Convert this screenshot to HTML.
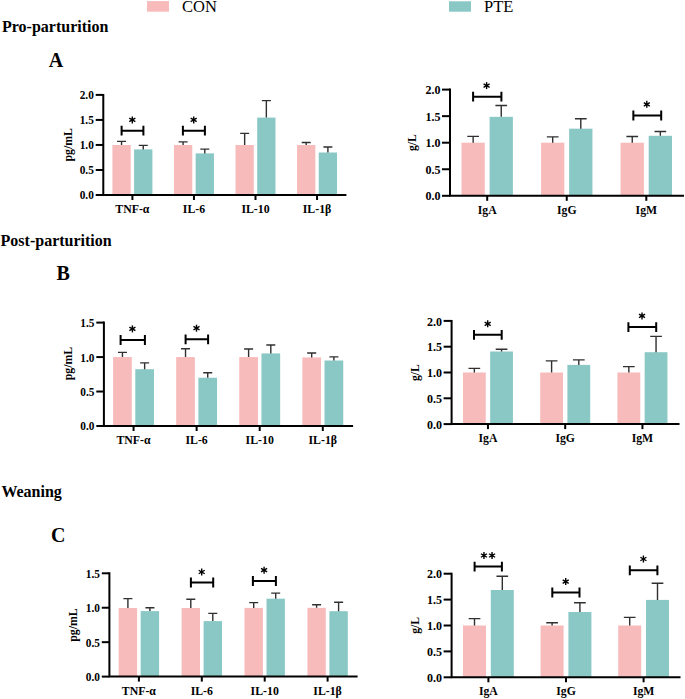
<!DOCTYPE html>
<html><head><meta charset="utf-8"><style>
html,body{margin:0;padding:0;background:#fff;}
body{width:685px;height:699px;overflow:hidden;}
svg{display:block;}
text{font-family:"Liberation Serif", serif;fill:#000;}
</style></head><body>
<svg width="685" height="699" viewBox="0 0 685 699">
<rect x="0" y="0" width="685" height="699" fill="#fff"/>
<rect x="147" y="1.1" width="22" height="10.6" fill="#F8BBBB"/>
<text x="182" y="12.3" font-size="16.5">CON</text>
<rect x="449" y="1.3" width="22" height="10.4" fill="#89C8C5"/>
<text x="484" y="12.3" font-size="16.5">PTE</text>
<text x="2.0" y="32.4" font-size="16" font-weight="bold">Pro-parturition</text>
<text x="48.7" y="66.5" font-size="20" font-weight="bold">A</text>
<text x="0.6" y="245.7" font-size="16" font-weight="bold">Post-parturition</text>
<text x="56.4" y="280" font-size="20" font-weight="bold">B</text>
<text x="1.4" y="496.9" font-size="16" font-weight="bold">Weaning</text>
<text transform="translate(51 542.4) scale(1 1.06)" font-size="20" font-weight="bold">C</text>
<rect x="112.4" y="145" width="18.3" height="50" fill="#F8BBBB"/>
<path d="M121.55 145V141.4M117.05 141.4H126.05" stroke="#303030" stroke-width="1.4" fill="none"/>
<rect x="134.1" y="149.4" width="18.3" height="45.6" fill="#89C8C5"/>
<path d="M143.25 149.4V145.4M138.75 145.4H147.75" stroke="#303030" stroke-width="1.4" fill="none"/>
<line x1="132.4" y1="195" x2="132.4" y2="200" stroke="#000" stroke-width="2"/>
<text x="132.4" y="212.9" text-anchor="middle" font-size="11.8" font-weight="bold">TNF-α</text>
<rect x="173.95" y="145" width="18.3" height="50" fill="#F8BBBB"/>
<path d="M183.1 145V141.9M178.6 141.9H187.6" stroke="#303030" stroke-width="1.4" fill="none"/>
<rect x="195.65" y="153.4" width="18.3" height="41.6" fill="#89C8C5"/>
<path d="M204.8 153.4V149.1M200.3 149.1H209.3" stroke="#303030" stroke-width="1.4" fill="none"/>
<line x1="193.95" y1="195" x2="193.95" y2="200" stroke="#000" stroke-width="2"/>
<text x="193.95" y="212.9" text-anchor="middle" font-size="11.8" font-weight="bold">IL-6</text>
<rect x="235.5" y="145" width="18.3" height="50" fill="#F8BBBB"/>
<path d="M244.65 145V133.4M240.15 133.4H249.15" stroke="#303030" stroke-width="1.4" fill="none"/>
<rect x="257.2" y="117.6" width="18.3" height="77.4" fill="#89C8C5"/>
<path d="M266.35 117.6V100.6M261.85 100.6H270.85" stroke="#303030" stroke-width="1.4" fill="none"/>
<line x1="255.5" y1="195" x2="255.5" y2="200" stroke="#000" stroke-width="2"/>
<text x="255.5" y="212.9" text-anchor="middle" font-size="11.8" font-weight="bold">IL-10</text>
<rect x="297.05" y="145" width="18.3" height="50" fill="#F8BBBB"/>
<path d="M306.2 145V142.5M301.7 142.5H310.7" stroke="#303030" stroke-width="1.4" fill="none"/>
<rect x="318.75" y="152.5" width="18.3" height="42.5" fill="#89C8C5"/>
<path d="M327.9 152.5V147M323.4 147H332.4" stroke="#303030" stroke-width="1.4" fill="none"/>
<line x1="317.05" y1="195" x2="317.05" y2="200" stroke="#000" stroke-width="2"/>
<text x="317.05" y="212.9" text-anchor="middle" font-size="11.8" font-weight="bold">IL-1β</text>
<path d="M103.3 93.9V195H346.4" stroke="#000" stroke-width="2" fill="none" stroke-linecap="butt"/>
<line x1="95.7" y1="195" x2="103.3" y2="195" stroke="#000" stroke-width="2"/>
<text transform="translate(93.8 199.45) scale(1 1.06)" text-anchor="end" font-size="11.3" font-weight="bold">0.0</text>
<line x1="95.7" y1="169.97" x2="103.3" y2="169.97" stroke="#000" stroke-width="2"/>
<text transform="translate(93.8 174.42) scale(1 1.06)" text-anchor="end" font-size="11.3" font-weight="bold">0.5</text>
<line x1="95.7" y1="144.95" x2="103.3" y2="144.95" stroke="#000" stroke-width="2"/>
<text transform="translate(93.8 149.4) scale(1 1.06)" text-anchor="end" font-size="11.3" font-weight="bold">1.0</text>
<line x1="95.7" y1="119.93" x2="103.3" y2="119.93" stroke="#000" stroke-width="2"/>
<text transform="translate(93.8 124.37) scale(1 1.06)" text-anchor="end" font-size="11.3" font-weight="bold">1.5</text>
<line x1="95.7" y1="94.9" x2="103.3" y2="94.9" stroke="#000" stroke-width="2"/>
<text transform="translate(93.8 99.35) scale(1 1.06)" text-anchor="end" font-size="11.3" font-weight="bold">2.0</text>
<text transform="translate(71.5 144.8) rotate(-90)" text-anchor="middle" font-size="11.8" font-weight="bold">pg/mL</text>
<path d="M121.6 125.8V135.6M121.6 130.7H143.4M143.4 125.8V135.6" stroke="#000" stroke-width="2" fill="none"/>
<g stroke="#000" stroke-width="1.4" stroke-linecap="butt"><line x1="132.3" y1="116.4" x2="132.3" y2="123.4"/><line x1="129.27" y1="118.15" x2="135.33" y2="121.65"/><line x1="135.33" y1="118.15" x2="129.27" y2="121.65"/><circle cx="132.3" cy="119.9" r="1.3" fill="#000" stroke="none"/></g>
<path d="M182.9 125.8V135.6M182.9 130.7H204.9M204.9 125.8V135.6" stroke="#000" stroke-width="2" fill="none"/>
<g stroke="#000" stroke-width="1.4" stroke-linecap="butt"><line x1="193.7" y1="116.4" x2="193.7" y2="123.4"/><line x1="190.67" y1="118.15" x2="196.73" y2="121.65"/><line x1="196.73" y1="118.15" x2="190.67" y2="121.65"/><circle cx="193.7" cy="119.9" r="1.3" fill="#000" stroke="none"/></g>
<rect x="461.5" y="142.7" width="23.3" height="53.1" fill="#F8BBBB"/>
<path d="M473.15 142.7V136.33M467.3 136.33H479" stroke="#303030" stroke-width="1.4" fill="none"/>
<rect x="489.6" y="116.84" width="23.3" height="78.96" fill="#89C8C5"/>
<path d="M501.25 116.84V105.53M495.4 105.53H507.1" stroke="#303030" stroke-width="1.4" fill="none"/>
<line x1="487.2" y1="195.8" x2="487.2" y2="200.8" stroke="#000" stroke-width="2"/>
<text x="487.2" y="213.8" text-anchor="middle" font-size="11.7" font-weight="bold">IgA</text>
<rect x="541.05" y="142.7" width="23.3" height="53.1" fill="#F8BBBB"/>
<path d="M552.7 142.7V136.86M546.85 136.86H558.55" stroke="#303030" stroke-width="1.4" fill="none"/>
<rect x="569.15" y="128.68" width="23.3" height="67.12" fill="#89C8C5"/>
<path d="M580.8 128.68V118.81M574.95 118.81H586.65" stroke="#303030" stroke-width="1.4" fill="none"/>
<line x1="566.75" y1="195.8" x2="566.75" y2="200.8" stroke="#000" stroke-width="2"/>
<text x="566.75" y="213.8" text-anchor="middle" font-size="11.7" font-weight="bold">IgG</text>
<rect x="620.6" y="142.7" width="23.3" height="53.1" fill="#F8BBBB"/>
<path d="M632.25 142.7V136.49M626.4 136.49H638.1" stroke="#303030" stroke-width="1.4" fill="none"/>
<rect x="648.7" y="135.8" width="23.3" height="60" fill="#89C8C5"/>
<path d="M660.35 135.8V131.55M654.5 131.55H666.2" stroke="#303030" stroke-width="1.4" fill="none"/>
<line x1="646.3" y1="195.8" x2="646.3" y2="200.8" stroke="#000" stroke-width="2"/>
<text x="646.3" y="213.8" text-anchor="middle" font-size="11.7" font-weight="bold">IgM</text>
<path d="M450 88.6V195.8H684" stroke="#000" stroke-width="2" fill="none" stroke-linecap="butt"/>
<line x1="442" y1="195.8" x2="450" y2="195.8" stroke="#000" stroke-width="2"/>
<text transform="translate(440.5 200.42) scale(1 1.04)" text-anchor="end" font-size="12" font-weight="bold">0.0</text>
<line x1="442" y1="169.25" x2="450" y2="169.25" stroke="#000" stroke-width="2"/>
<text transform="translate(440.5 173.87) scale(1 1.04)" text-anchor="end" font-size="12" font-weight="bold">0.5</text>
<line x1="442" y1="142.7" x2="450" y2="142.7" stroke="#000" stroke-width="2"/>
<text transform="translate(440.5 147.32) scale(1 1.04)" text-anchor="end" font-size="12" font-weight="bold">1.0</text>
<line x1="442" y1="116.15" x2="450" y2="116.15" stroke="#000" stroke-width="2"/>
<text transform="translate(440.5 120.77) scale(1 1.04)" text-anchor="end" font-size="12" font-weight="bold">1.5</text>
<line x1="442" y1="89.6" x2="450" y2="89.6" stroke="#000" stroke-width="2"/>
<text transform="translate(440.5 94.22) scale(1 1.04)" text-anchor="end" font-size="12" font-weight="bold">2.0</text>
<text transform="translate(415.5 142.6) rotate(-90)" text-anchor="middle" font-size="11.7" font-weight="bold">g/L</text>
<path d="M473.1 91.8V101.6M473.1 96.7H501.4M501.4 91.8V101.6" stroke="#000" stroke-width="2" fill="none"/>
<g stroke="#000" stroke-width="1.4" stroke-linecap="butt"><line x1="486.6" y1="82.1" x2="486.6" y2="89.1"/><line x1="483.57" y1="83.85" x2="489.63" y2="87.35"/><line x1="489.63" y1="83.85" x2="483.57" y2="87.35"/><circle cx="486.6" cy="85.6" r="1.3" fill="#000" stroke="none"/></g>
<path d="M633.35 110.6V120.4M633.35 115.5H661.2M661.2 110.6V120.4" stroke="#000" stroke-width="2" fill="none"/>
<g stroke="#000" stroke-width="1.4" stroke-linecap="butt"><line x1="646.8" y1="100.8" x2="646.8" y2="107.8"/><line x1="643.77" y1="102.55" x2="649.83" y2="106.05"/><line x1="649.83" y1="102.55" x2="643.77" y2="106.05"/><circle cx="646.8" cy="104.3" r="1.3" fill="#000" stroke="none"/></g>
<rect x="113.1" y="357.07" width="18.7" height="68.93" fill="#F8BBBB"/>
<path d="M122.45 357.07V352.38M117.95 352.38H126.95" stroke="#303030" stroke-width="1.4" fill="none"/>
<rect x="135.3" y="369.2" width="18.7" height="56.8" fill="#89C8C5"/>
<path d="M144.65 369.2V362.86M140.15 362.86H149.15" stroke="#303030" stroke-width="1.4" fill="none"/>
<line x1="133.55" y1="426" x2="133.55" y2="431" stroke="#000" stroke-width="2"/>
<text x="133.55" y="443.8" text-anchor="middle" font-size="11.8" font-weight="bold">TNF-α</text>
<rect x="176.18" y="357.07" width="18.7" height="68.93" fill="#F8BBBB"/>
<path d="M185.53 357.07V348.79M181.03 348.79H190.03" stroke="#303030" stroke-width="1.4" fill="none"/>
<rect x="198.38" y="377.75" width="18.7" height="48.25" fill="#89C8C5"/>
<path d="M207.73 377.75V372.71M203.23 372.71H212.23" stroke="#303030" stroke-width="1.4" fill="none"/>
<line x1="196.63" y1="426" x2="196.63" y2="431" stroke="#000" stroke-width="2"/>
<text x="196.63" y="443.8" text-anchor="middle" font-size="11.8" font-weight="bold">IL-6</text>
<rect x="239.26" y="357.07" width="18.7" height="68.93" fill="#F8BBBB"/>
<path d="M248.61 357.07V348.93M244.11 348.93H253.11" stroke="#303030" stroke-width="1.4" fill="none"/>
<rect x="261.46" y="353.41" width="18.7" height="72.59" fill="#89C8C5"/>
<path d="M270.81 353.41V344.93M266.31 344.93H275.31" stroke="#303030" stroke-width="1.4" fill="none"/>
<line x1="259.71" y1="426" x2="259.71" y2="431" stroke="#000" stroke-width="2"/>
<text x="259.71" y="443.8" text-anchor="middle" font-size="11.8" font-weight="bold">IL-10</text>
<rect x="302.34" y="357.41" width="18.7" height="68.59" fill="#F8BBBB"/>
<path d="M311.69 357.41V352.93M307.19 352.93H316.19" stroke="#303030" stroke-width="1.4" fill="none"/>
<rect x="324.54" y="360.51" width="18.7" height="65.49" fill="#89C8C5"/>
<path d="M333.89 360.51V356.86M329.39 356.86H338.39" stroke="#303030" stroke-width="1.4" fill="none"/>
<line x1="322.79" y1="426" x2="322.79" y2="431" stroke="#000" stroke-width="2"/>
<text x="322.79" y="443.8" text-anchor="middle" font-size="11.8" font-weight="bold">IL-1β</text>
<path d="M103.9 321.6V426H353.1" stroke="#000" stroke-width="2" fill="none" stroke-linecap="butt"/>
<line x1="96.3" y1="426" x2="103.9" y2="426" stroke="#000" stroke-width="2"/>
<text transform="translate(94.4 430.45) scale(1 1.06)" text-anchor="end" font-size="11.3" font-weight="bold">0.0</text>
<line x1="96.3" y1="391.53" x2="103.9" y2="391.53" stroke="#000" stroke-width="2"/>
<text transform="translate(94.4 395.98) scale(1 1.06)" text-anchor="end" font-size="11.3" font-weight="bold">0.5</text>
<line x1="96.3" y1="357.07" x2="103.9" y2="357.07" stroke="#000" stroke-width="2"/>
<text transform="translate(94.4 361.52) scale(1 1.06)" text-anchor="end" font-size="11.3" font-weight="bold">1.0</text>
<line x1="96.3" y1="322.6" x2="103.9" y2="322.6" stroke="#000" stroke-width="2"/>
<text transform="translate(94.4 327.05) scale(1 1.06)" text-anchor="end" font-size="11.3" font-weight="bold">1.5</text>
<text transform="translate(71.5 363.6) rotate(-90)" text-anchor="middle" font-size="11.8" font-weight="bold">pg/mL</text>
<path d="M120.6 335.1V344.9M120.6 340H144.9M144.9 335.1V344.9" stroke="#000" stroke-width="2" fill="none"/>
<g stroke="#000" stroke-width="1.4" stroke-linecap="butt"><line x1="132.4" y1="325.4" x2="132.4" y2="332.4"/><line x1="129.37" y1="327.15" x2="135.43" y2="330.65"/><line x1="135.43" y1="327.15" x2="129.37" y2="330.65"/><circle cx="132.4" cy="328.9" r="1.3" fill="#000" stroke="none"/></g>
<path d="M185.6 334.4V344.2M185.6 339.3H208.1M208.1 334.4V344.2" stroke="#000" stroke-width="2" fill="none"/>
<g stroke="#000" stroke-width="1.4" stroke-linecap="butt"><line x1="196.5" y1="324.7" x2="196.5" y2="331.7"/><line x1="193.47" y1="326.45" x2="199.53" y2="329.95"/><line x1="199.53" y1="326.45" x2="193.47" y2="329.95"/><circle cx="196.5" cy="328.2" r="1.3" fill="#000" stroke="none"/></g>
<rect x="462.95" y="372.5" width="22.8" height="51.6" fill="#F8BBBB"/>
<path d="M474.35 372.5V368.37M468.5 368.37H480.2" stroke="#303030" stroke-width="1.4" fill="none"/>
<rect x="490.15" y="351.5" width="22.8" height="72.6" fill="#89C8C5"/>
<path d="M501.55 351.5V349.28M495.7 349.28H507.4" stroke="#303030" stroke-width="1.4" fill="none"/>
<line x1="487.95" y1="424.1" x2="487.95" y2="429.1" stroke="#000" stroke-width="2"/>
<text x="487.95" y="442.4" text-anchor="middle" font-size="11.7" font-weight="bold">IgA</text>
<rect x="540.2" y="372.5" width="22.8" height="51.6" fill="#F8BBBB"/>
<path d="M551.6 372.5V360.89M545.75 360.89H557.45" stroke="#303030" stroke-width="1.4" fill="none"/>
<rect x="567.4" y="364.91" width="22.8" height="59.19" fill="#89C8C5"/>
<path d="M578.8 364.91V359.91M572.95 359.91H584.65" stroke="#303030" stroke-width="1.4" fill="none"/>
<line x1="565.2" y1="424.1" x2="565.2" y2="429.1" stroke="#000" stroke-width="2"/>
<text x="565.2" y="442.4" text-anchor="middle" font-size="11.7" font-weight="bold">IgG</text>
<rect x="617.45" y="372.5" width="22.8" height="51.6" fill="#F8BBBB"/>
<path d="M628.85 372.5V366.62M623 366.62H634.7" stroke="#303030" stroke-width="1.4" fill="none"/>
<rect x="644.65" y="352.22" width="22.8" height="71.88" fill="#89C8C5"/>
<path d="M656.05 352.22V336.38M650.2 336.38H661.9" stroke="#303030" stroke-width="1.4" fill="none"/>
<line x1="642.45" y1="424.1" x2="642.45" y2="429.1" stroke="#000" stroke-width="2"/>
<text x="642.45" y="442.4" text-anchor="middle" font-size="11.7" font-weight="bold">IgM</text>
<path d="M451.6 319.9V424.1H679.5" stroke="#000" stroke-width="2" fill="none" stroke-linecap="butt"/>
<line x1="443.6" y1="424.1" x2="451.6" y2="424.1" stroke="#000" stroke-width="2"/>
<text transform="translate(442.1 428.72) scale(1 1.04)" text-anchor="end" font-size="12" font-weight="bold">0.0</text>
<line x1="443.6" y1="398.3" x2="451.6" y2="398.3" stroke="#000" stroke-width="2"/>
<text transform="translate(442.1 402.92) scale(1 1.04)" text-anchor="end" font-size="12" font-weight="bold">0.5</text>
<line x1="443.6" y1="372.5" x2="451.6" y2="372.5" stroke="#000" stroke-width="2"/>
<text transform="translate(442.1 377.12) scale(1 1.04)" text-anchor="end" font-size="12" font-weight="bold">1.0</text>
<line x1="443.6" y1="346.7" x2="451.6" y2="346.7" stroke="#000" stroke-width="2"/>
<text transform="translate(442.1 351.32) scale(1 1.04)" text-anchor="end" font-size="12" font-weight="bold">1.5</text>
<line x1="443.6" y1="320.9" x2="451.6" y2="320.9" stroke="#000" stroke-width="2"/>
<text transform="translate(442.1 325.52) scale(1 1.04)" text-anchor="end" font-size="12" font-weight="bold">2.0</text>
<text transform="translate(418.5 372.6) rotate(-90)" text-anchor="middle" font-size="11.7" font-weight="bold">g/L</text>
<path d="M474 329.9V339.7M474 334.8H501.7M501.7 329.9V339.7" stroke="#000" stroke-width="2" fill="none"/>
<g stroke="#000" stroke-width="1.4" stroke-linecap="butt"><line x1="487.7" y1="320.3" x2="487.7" y2="327.3"/><line x1="484.67" y1="322.05" x2="490.73" y2="325.55"/><line x1="490.73" y1="322.05" x2="484.67" y2="325.55"/><circle cx="487.7" cy="323.8" r="1.3" fill="#000" stroke="none"/></g>
<path d="M628.4 322.2V332M628.4 327.1H656.2M656.2 322.2V332" stroke="#000" stroke-width="2" fill="none"/>
<g stroke="#000" stroke-width="1.4" stroke-linecap="butt"><line x1="642" y1="312.4" x2="642" y2="319.4"/><line x1="638.97" y1="314.15" x2="645.03" y2="317.65"/><line x1="645.03" y1="314.15" x2="638.97" y2="317.65"/><circle cx="642" cy="315.9" r="1.3" fill="#000" stroke="none"/></g>
<rect x="118.7" y="608" width="18.4" height="68.6" fill="#F8BBBB"/>
<path d="M127.9 608V598.6M123.4 598.6H132.4" stroke="#303030" stroke-width="1.4" fill="none"/>
<rect x="140.7" y="611.1" width="18.4" height="65.5" fill="#89C8C5"/>
<path d="M149.9 611.1V607.7M145.4 607.7H154.4" stroke="#303030" stroke-width="1.4" fill="none"/>
<line x1="138.9" y1="676.6" x2="138.9" y2="681.6" stroke="#000" stroke-width="2"/>
<text x="138.9" y="694.8" text-anchor="middle" font-size="11.8" font-weight="bold">TNF-α</text>
<rect x="181.6" y="608" width="18.4" height="68.6" fill="#F8BBBB"/>
<path d="M190.8 608V599.2M186.3 599.2H195.3" stroke="#303030" stroke-width="1.4" fill="none"/>
<rect x="203.6" y="621.1" width="18.4" height="55.5" fill="#89C8C5"/>
<path d="M212.8 621.1V613.4M208.3 613.4H217.3" stroke="#303030" stroke-width="1.4" fill="none"/>
<line x1="201.8" y1="676.6" x2="201.8" y2="681.6" stroke="#000" stroke-width="2"/>
<text x="201.8" y="694.8" text-anchor="middle" font-size="11.8" font-weight="bold">IL-6</text>
<rect x="244.5" y="607.9" width="18.4" height="68.7" fill="#F8BBBB"/>
<path d="M253.7 607.9V602.6M249.2 602.6H258.2" stroke="#303030" stroke-width="1.4" fill="none"/>
<rect x="266.5" y="598.7" width="18.4" height="77.9" fill="#89C8C5"/>
<path d="M275.7 598.7V593.1M271.2 593.1H280.2" stroke="#303030" stroke-width="1.4" fill="none"/>
<line x1="264.7" y1="676.6" x2="264.7" y2="681.6" stroke="#000" stroke-width="2"/>
<text x="264.7" y="694.8" text-anchor="middle" font-size="11.8" font-weight="bold">IL-10</text>
<rect x="307.4" y="607.8" width="18.4" height="68.8" fill="#F8BBBB"/>
<path d="M316.6 607.8V604.8M312.1 604.8H321.1" stroke="#303030" stroke-width="1.4" fill="none"/>
<rect x="329.4" y="611.2" width="18.4" height="65.4" fill="#89C8C5"/>
<path d="M338.6 611.2V602.3M334.1 602.3H343.1" stroke="#303030" stroke-width="1.4" fill="none"/>
<line x1="327.6" y1="676.6" x2="327.6" y2="681.6" stroke="#000" stroke-width="2"/>
<text x="327.6" y="694.8" text-anchor="middle" font-size="11.8" font-weight="bold">IL-1β</text>
<path d="M109.4 572.3V676.6H357.6" stroke="#000" stroke-width="2" fill="none" stroke-linecap="butt"/>
<line x1="101.8" y1="676.6" x2="109.4" y2="676.6" stroke="#000" stroke-width="2"/>
<text transform="translate(99.9 681.05) scale(1 1.06)" text-anchor="end" font-size="11.3" font-weight="bold">0.0</text>
<line x1="101.8" y1="642.17" x2="109.4" y2="642.17" stroke="#000" stroke-width="2"/>
<text transform="translate(99.9 646.62) scale(1 1.06)" text-anchor="end" font-size="11.3" font-weight="bold">0.5</text>
<line x1="101.8" y1="607.73" x2="109.4" y2="607.73" stroke="#000" stroke-width="2"/>
<text transform="translate(99.9 612.18) scale(1 1.06)" text-anchor="end" font-size="11.3" font-weight="bold">1.0</text>
<line x1="101.8" y1="573.3" x2="109.4" y2="573.3" stroke="#000" stroke-width="2"/>
<text transform="translate(99.9 577.75) scale(1 1.06)" text-anchor="end" font-size="11.3" font-weight="bold">1.5</text>
<text transform="translate(77 625) rotate(-90)" text-anchor="middle" font-size="11.8" font-weight="bold">pg/mL</text>
<path d="M190.9 577.6V587.4M190.9 582.5H213.2M213.2 577.6V587.4" stroke="#000" stroke-width="2" fill="none"/>
<g stroke="#000" stroke-width="1.4" stroke-linecap="butt"><line x1="201.7" y1="568.5" x2="201.7" y2="575.5"/><line x1="198.67" y1="570.25" x2="204.73" y2="573.75"/><line x1="204.73" y1="570.25" x2="198.67" y2="573.75"/><circle cx="201.7" cy="572" r="1.3" fill="#000" stroke="none"/></g>
<path d="M252.9 576.1V585.9M252.9 581H275.9M275.9 576.1V585.9" stroke="#000" stroke-width="2" fill="none"/>
<g stroke="#000" stroke-width="1.4" stroke-linecap="butt"><line x1="264.1" y1="566.7" x2="264.1" y2="573.7"/><line x1="261.07" y1="568.45" x2="267.13" y2="571.95"/><line x1="267.13" y1="568.45" x2="261.07" y2="571.95"/><circle cx="264.1" cy="570.2" r="1.3" fill="#000" stroke="none"/></g>
<rect x="463" y="625.5" width="23" height="51.8" fill="#F8BBBB"/>
<path d="M474.5 625.5V618.61M468.65 618.61H480.35" stroke="#303030" stroke-width="1.4" fill="none"/>
<rect x="490.8" y="590.02" width="23" height="87.28" fill="#89C8C5"/>
<path d="M502.3 590.02V576.29M496.45 576.29H508.15" stroke="#303030" stroke-width="1.4" fill="none"/>
<line x1="488.4" y1="677.3" x2="488.4" y2="682.3" stroke="#000" stroke-width="2"/>
<text x="488.4" y="695" text-anchor="middle" font-size="11.7" font-weight="bold">IgA</text>
<rect x="540.6" y="625.5" width="23" height="51.8" fill="#F8BBBB"/>
<path d="M552.1 625.5V622.81M546.25 622.81H557.95" stroke="#303030" stroke-width="1.4" fill="none"/>
<rect x="568.4" y="612.03" width="23" height="65.27" fill="#89C8C5"/>
<path d="M579.9 612.03V602.71M574.05 602.71H585.75" stroke="#303030" stroke-width="1.4" fill="none"/>
<line x1="566" y1="677.3" x2="566" y2="682.3" stroke="#000" stroke-width="2"/>
<text x="566" y="695" text-anchor="middle" font-size="11.7" font-weight="bold">IgG</text>
<rect x="618.2" y="625.5" width="23" height="51.8" fill="#F8BBBB"/>
<path d="M629.7 625.5V617.42M623.85 617.42H635.55" stroke="#303030" stroke-width="1.4" fill="none"/>
<rect x="646" y="599.91" width="23" height="77.39" fill="#89C8C5"/>
<path d="M657.5 599.91V583.28M651.65 583.28H663.35" stroke="#303030" stroke-width="1.4" fill="none"/>
<line x1="643.6" y1="677.3" x2="643.6" y2="682.3" stroke="#000" stroke-width="2"/>
<text x="643.6" y="695" text-anchor="middle" font-size="11.7" font-weight="bold">IgM</text>
<path d="M451.6 572.7V677.3H680.5" stroke="#000" stroke-width="2" fill="none" stroke-linecap="butt"/>
<line x1="443.6" y1="677.3" x2="451.6" y2="677.3" stroke="#000" stroke-width="2"/>
<text transform="translate(442.1 681.92) scale(1 1.04)" text-anchor="end" font-size="12" font-weight="bold">0.0</text>
<line x1="443.6" y1="651.4" x2="451.6" y2="651.4" stroke="#000" stroke-width="2"/>
<text transform="translate(442.1 656.02) scale(1 1.04)" text-anchor="end" font-size="12" font-weight="bold">0.5</text>
<line x1="443.6" y1="625.5" x2="451.6" y2="625.5" stroke="#000" stroke-width="2"/>
<text transform="translate(442.1 630.12) scale(1 1.04)" text-anchor="end" font-size="12" font-weight="bold">1.0</text>
<line x1="443.6" y1="599.6" x2="451.6" y2="599.6" stroke="#000" stroke-width="2"/>
<text transform="translate(442.1 604.22) scale(1 1.04)" text-anchor="end" font-size="12" font-weight="bold">1.5</text>
<line x1="443.6" y1="573.7" x2="451.6" y2="573.7" stroke="#000" stroke-width="2"/>
<text transform="translate(442.1 578.32) scale(1 1.04)" text-anchor="end" font-size="12" font-weight="bold">2.0</text>
<text transform="translate(418.5 625.4) rotate(-90)" text-anchor="middle" font-size="11.7" font-weight="bold">g/L</text>
<path d="M474.6 561.7V571.5M474.6 566.6H501.9M501.9 561.7V571.5" stroke="#000" stroke-width="2" fill="none"/>
<g stroke="#000" stroke-width="1.4" stroke-linecap="butt"><line x1="483.95" y1="552" x2="483.95" y2="559"/><line x1="480.92" y1="553.75" x2="486.98" y2="557.25"/><line x1="486.98" y1="553.75" x2="480.92" y2="557.25"/><circle cx="483.95" cy="555.5" r="1.3" fill="#000" stroke="none"/></g>
<g stroke="#000" stroke-width="1.4" stroke-linecap="butt"><line x1="492.05" y1="552" x2="492.05" y2="559"/><line x1="489.02" y1="553.75" x2="495.08" y2="557.25"/><line x1="495.08" y1="553.75" x2="489.02" y2="557.25"/><circle cx="492.05" cy="555.5" r="1.3" fill="#000" stroke="none"/></g>
<path d="M552.3 587.6V597.4M552.3 592.5H579.5M579.5 587.6V597.4" stroke="#000" stroke-width="2" fill="none"/>
<g stroke="#000" stroke-width="1.4" stroke-linecap="butt"><line x1="565.7" y1="578.1" x2="565.7" y2="585.1"/><line x1="562.67" y1="579.85" x2="568.73" y2="583.35"/><line x1="568.73" y1="579.85" x2="562.67" y2="583.35"/><circle cx="565.7" cy="581.6" r="1.3" fill="#000" stroke="none"/></g>
<path d="M629.8 565.4V575.2M629.8 570.3H657.4M657.4 565.4V575.2" stroke="#000" stroke-width="2" fill="none"/>
<g stroke="#000" stroke-width="1.4" stroke-linecap="butt"><line x1="643.4" y1="555.5" x2="643.4" y2="562.5"/><line x1="640.37" y1="557.25" x2="646.43" y2="560.75"/><line x1="646.43" y1="557.25" x2="640.37" y2="560.75"/><circle cx="643.4" cy="559" r="1.3" fill="#000" stroke="none"/></g>
</svg>
</body></html>
